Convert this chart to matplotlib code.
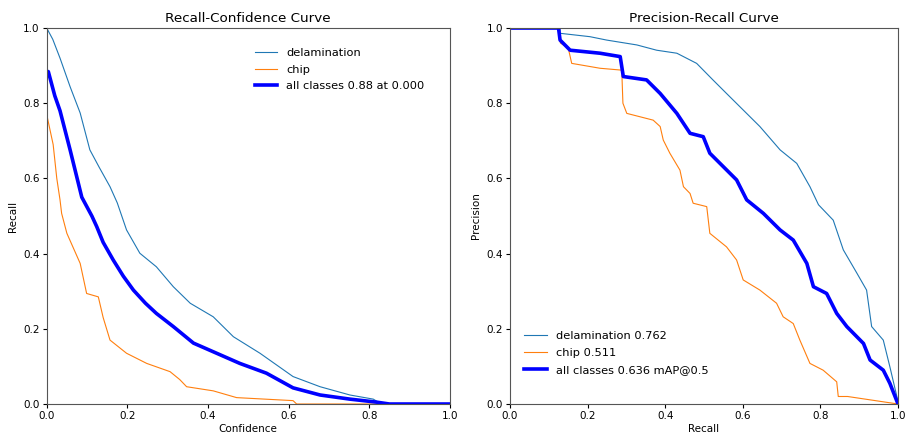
import matplotlib
matplotlib.use("Agg")
import matplotlib.pyplot as plt

# Recall-confidence curves
conf_del = [0.0, 0.015, 0.033, 0.058, 0.083, 0.107, 0.13, 0.157, 0.175, 0.198, 0.231,
            0.272, 0.314, 0.356, 0.413, 0.463, 0.529, 0.611, 0.678, 0.752, 0.81, 0.83, 1.0]
rec_del = [1.0, 0.97, 0.92, 0.844, 0.774, 0.676, 0.63, 0.578, 0.535, 0.463, 0.401,
           0.365, 0.312, 0.268, 0.232, 0.179, 0.135, 0.073, 0.046, 0.024, 0.013, 0.0, 0.0]

conf_chip = [0.0, 0.016, 0.025, 0.033, 0.037, 0.05, 0.083, 0.099, 0.128, 0.14, 0.157,
             0.198, 0.248, 0.306, 0.33, 0.347, 0.413, 0.471, 0.611, 0.62, 1.0]
rec_chip = [0.77, 0.69, 0.60, 0.543, 0.507, 0.454, 0.374, 0.294, 0.285, 0.23, 0.170,
            0.135, 0.108, 0.086, 0.065, 0.046, 0.035, 0.017, 0.009, 0.0, 0.0]

conf_all = [0.0, 0.004, 0.02, 0.033, 0.058, 0.087, 0.112, 0.124, 0.14, 0.165, 0.19,
            0.215, 0.245, 0.272, 0.314, 0.364, 0.413, 0.479, 0.545, 0.611, 0.678, 0.752,
            0.818, 0.85, 1.0]
rec_all = [0.885, 0.884, 0.82, 0.78, 0.676, 0.55, 0.50, 0.472, 0.43, 0.383, 0.34,
           0.303, 0.268, 0.241, 0.206, 0.162, 0.139, 0.108, 0.082, 0.043, 0.024, 0.013,
           0.005, 0.0, 0.0]

# Precision-recall curves
pr_rec_del = [0.0, 0.129, 0.129, 0.206, 0.249, 0.327, 0.378, 0.43, 0.481, 0.523, 0.558,
              0.601, 0.644, 0.696, 0.739, 0.773, 0.795, 0.833, 0.859, 0.894, 0.919,
              0.932, 0.962, 0.979, 0.997, 1.0]
pr_prec_del = [1.0, 1.0, 0.986, 0.977, 0.968, 0.955, 0.941, 0.933, 0.906, 0.862, 0.826,
               0.782, 0.738, 0.676, 0.640, 0.578, 0.53, 0.489, 0.410, 0.348, 0.303,
               0.206, 0.170, 0.099, 0.02, 0.0]

pr_rec_chip = [0.0, 0.125, 0.13, 0.15, 0.159, 0.232, 0.288, 0.291, 0.301, 0.369, 0.387,
               0.395, 0.412, 0.438, 0.447, 0.464, 0.472, 0.507, 0.515, 0.558, 0.584,
               0.601, 0.644, 0.687, 0.704, 0.73, 0.747, 0.773, 0.807, 0.842, 0.846,
               0.87, 1.0]
pr_prec_chip = [1.0, 1.0, 0.96, 0.947, 0.906, 0.893, 0.888, 0.8, 0.773, 0.755, 0.738,
                0.702, 0.667, 0.622, 0.578, 0.560, 0.534, 0.525, 0.454, 0.418, 0.383,
                0.330, 0.303, 0.268, 0.232, 0.214, 0.170, 0.108, 0.090, 0.059, 0.02,
                0.02, 0.0]

pr_rec_all = [0.0, 0.125, 0.129, 0.155, 0.232, 0.284, 0.292, 0.352, 0.387, 0.43, 0.464,
              0.498, 0.515, 0.55, 0.584, 0.61, 0.653, 0.696, 0.73, 0.765, 0.782, 0.816,
              0.842, 0.868, 0.911, 0.928, 0.962, 0.979, 1.0]
pr_prec_all = [1.0, 1.0, 0.968, 0.941, 0.933, 0.924, 0.871, 0.862, 0.826, 0.773, 0.72,
               0.711, 0.667, 0.631, 0.596, 0.543, 0.507, 0.463, 0.436, 0.374, 0.312,
               0.294, 0.241, 0.206, 0.161, 0.117, 0.090, 0.055, 0.0]

labels_rc = ["delamination", "chip", "all classes 0.88 at 0.000"]
labels_pr = ["delamination 0.762", "chip 0.511", "all classes 0.636 mAP@0.5"]

plt.rcParams["font.family"] = ["DejaVu Sans"]
fig = plt.figure(figsize=(9.07, 4.38), dpi=100)
ax1 = fig.add_axes([0.0515, 0.0776, 0.4445, 0.8584])
ax2 = fig.add_axes([0.5623, 0.0776, 0.4278, 0.8584])

ax1.plot(conf_del, rec_del, color="tab:blue", lw=0.8, label=labels_rc[0])
ax1.plot(conf_chip, rec_chip, color="tab:orange", lw=0.8, label=labels_rc[1])
ax1.plot(conf_all, rec_all, color="blue", lw=2.6, label=labels_rc[2])
ax1.set_xlim(0, 1)
ax1.set_ylim(0, 1)
ax1.set_xlabel("Confidence", fontsize=7.5, labelpad=2)
ax1.set_ylabel("Recall", fontsize=7.5, labelpad=4)
ax1.set_title("Recall-Confidence Curve", fontsize=9.7, pad=4)
ax1.legend(loc="upper left", frameon=False, fontsize=8.2, handlelength=2.0,
           handletextpad=0.8, bbox_to_anchor=(0.49, 0.975), labelspacing=0.6)

ax2.plot(pr_rec_del, pr_prec_del, color="tab:blue", lw=0.8, label=labels_pr[0])
ax2.plot(pr_rec_chip, pr_prec_chip, color="tab:orange", lw=0.8, label=labels_pr[1])
ax2.plot(pr_rec_all, pr_prec_all, color="blue", lw=2.6, label=labels_pr[2])
ax2.set_xlim(0, 1)
ax2.set_ylim(0, 1)
ax2.set_xlabel("Recall", fontsize=7.5, labelpad=2)
ax2.set_ylabel("Precision", fontsize=7.5, labelpad=4)
ax2.set_title("Precision-Recall Curve", fontsize=9.7, pad=4)
ax2.legend(loc="lower left", frameon=False, fontsize=8.2, handlelength=2.0,
           handletextpad=0.8, bbox_to_anchor=(0.01, 0.05), labelspacing=0.6)

for ax in (ax1, ax2):
    ax.tick_params(labelsize=7.5, length=3, pad=2)
    for s in ax.spines.values():
        s.set_color("#555555")
        s.set_linewidth(0.8)

fig.savefig("out.png", dpi=100)
